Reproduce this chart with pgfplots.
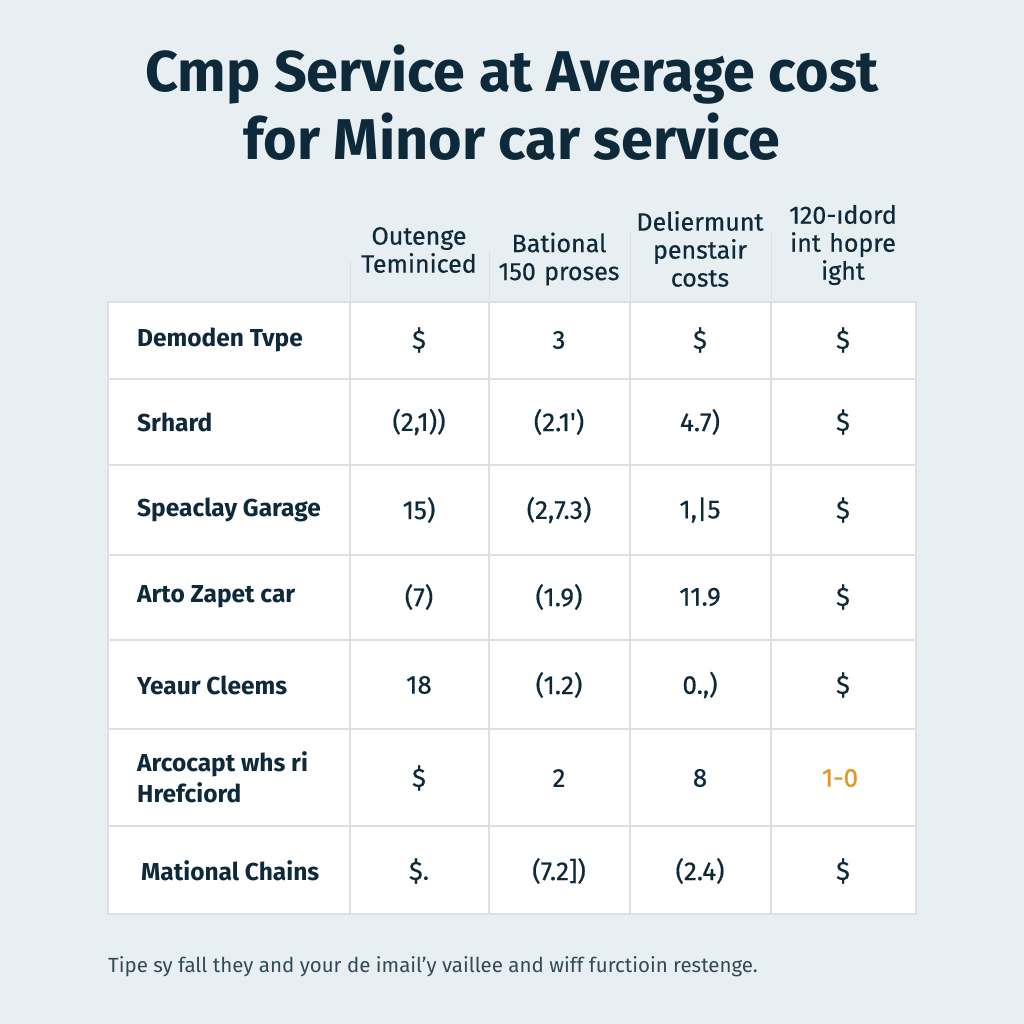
\documentclass[border=0pt]{standalone}
\usepackage{pgfplots}
\pgfplotsset{compat=1.18}
\usepackage{fontspec}
\setmainfont{Fira Sans}
\newfontfamily\med[FakeBold=0.5]{Fira Sans}
\definecolor{bg}{RGB}{232,239,242}
\definecolor{ink}{RGB}{14,42,58}
\definecolor{grid}{RGB}{218,224,228}
\definecolor{org}{RGB}{226,150,40}
\newcommand{\fs}[1]{\fontsize{#1}{#1}\selectfont}
\begin{document}
\begin{tikzpicture}
\begin{axis}[
  scale only axis, width=1024pt, height=1024pt,
  xmin=0, xmax=1024, ymin=0, ymax=1024, y dir=reverse,
  hide axis, clip=false]
% background
\fill[bg] (axis cs:0,0) rectangle (axis cs:1024,1024);
% table body
\fill[white] (axis cs:108,302) rectangle (axis cs:916,914);
\draw[grid, line width=1.2pt] (axis cs:108,302) rectangle (axis cs:916,914);
\pgfplotsinvokeforeach{379,465,555,640,729,826}{
  \draw[grid, line width=1.2pt] (axis cs:108,#1) -- (axis cs:916,#1);}
\pgfplotsinvokeforeach{350,489,630,771}{
  \draw[grid, line width=1.2pt] (axis cs:#1,302) -- (axis cs:#1,914);}
% header dividers
\draw[grid, line width=1pt] (axis cs:350,262) -- (axis cs:350,302);
\draw[grid, line width=1pt] (axis cs:489,250) -- (axis cs:489,302);
\draw[grid, line width=1pt] (axis cs:630,232) -- (axis cs:630,302);
\draw[grid, line width=1pt] (axis cs:771,232) -- (axis cs:771,302);
% title
\node[ink, font=\fs{57.5}\bfseries] at (axis cs:512,75) {Cmp Service at Average cost};
\node[ink, font=\fs{57.5}\bfseries] at (axis cs:512,137) {for Minor car service};
% headers
\begin{scope}[every node/.style={ink, font=\fs{25}\med, align=center, text width=160pt}]
\node at (axis cs:419,250) {Outenge\\[3pt]Teminiced};
\node at (axis cs:559,259) {Bational\\[3pt]150 proses};
\node at (axis cs:700,249) {Deliermunt\\[3pt]penstair\\[3pt]costs};
\node at (axis cs:843,245) {120-ıdord\\[3pt]int hopre\\[3pt]ight};
\end{scope}
% row labels
\begin{scope}[every node/.style={ink, font=\fs{24.5}\bfseries, anchor=west, inner sep=0pt}]
\node at (axis cs:137,340) {Demoden Tvpe};
\node at (axis cs:137,422) {Srhard};
\node at (axis cs:137,510) {Speaclay Garage};
\node at (axis cs:137,597) {Arto Zapet car};
\node at (axis cs:137,685) {Yeaur Cleems};
\node at (axis cs:137,764) {Arcocapt whs ri};
\node at (axis cs:137,793) {Hrefciord};
\node at (axis cs:141,871) {Mational Chains};
\end{scope}
% values
\begin{scope}[every node/.style={ink, font=\fs{26}\med}]
\node at (axis cs:419,340) {\$};
\node at (axis cs:559,340) {3};
\node at (axis cs:700,340) {\$};
\node at (axis cs:843,340) {\$};
\node at (axis cs:419,422) {(2,1))};
\node at (axis cs:559,422) {(2.1')};
\node at (axis cs:700,422) {4.7)};
\node at (axis cs:843,422) {\$};
\node at (axis cs:419,510) {15)};
\node at (axis cs:559,510) {(2,7.3)};
\node at (axis cs:700,510) {1,|5};
\node at (axis cs:843,510) {\$};
\node at (axis cs:419,597) {(7)};
\node at (axis cs:559,597) {(1.9)};
\node at (axis cs:700,597) {11.9};
\node at (axis cs:843,597) {\$};
\node at (axis cs:419,685) {18};
\node at (axis cs:559,685) {(1.2)};
\node at (axis cs:700,685) {0.,)};
\node at (axis cs:843,685) {\$};
\node at (axis cs:419,778) {\$};
\node at (axis cs:559,778) {2};
\node at (axis cs:700,778) {8};
\node[org] at (axis cs:840,778) {1-0};
\node at (axis cs:419,871) {\$.};
\node at (axis cs:559,871) {(7.2])};
\node at (axis cs:700,871) {(2.4)};
\node at (axis cs:843,871) {\$};
\end{scope}
% footer
\node[ink!85, font=\fs{20.5}, anchor=west, inner sep=0pt] at (axis cs:108,967) {Tipe sy fall they and your de imail'y vaillee and wiff furctioin restenge.};
\end{axis}
\end{tikzpicture}
\end{document}
